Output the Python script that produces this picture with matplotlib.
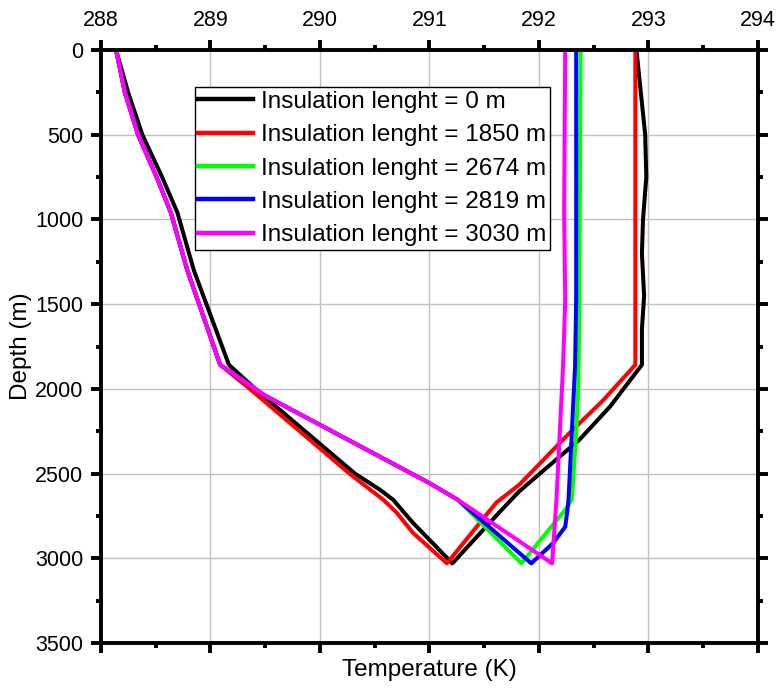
import matplotlib
matplotlib.use("Agg")
import matplotlib.pyplot as plt
from matplotlib.ticker import MultipleLocator

plt.rcParams["font.family"] = ["Liberation Sans", "DejaVu Sans"]

# each profile: down the inner pipe, then back up to the surface
labels = ["Insulation lenght = 0 m", "Insulation lenght = 1850 m",
          "Insulation lenght = 2674 m", "Insulation lenght = 2819 m",
          "Insulation lenght = 3030 m"]
colors = ["black", "#ff0000", "#00ff00", "#0000ff", "#ff00ff"]

# shared upper part of the descending branch (insulated cases)
down_T_top = [288.14, 288.22, 288.34, 288.51, 288.64, 288.79, 289.09]
down_d_top = [0, 250, 500, 750, 960, 1300, 1858]

T0 = [288.14, 288.25, 288.38, 288.56, 288.70, 288.85, 289.17, 289.41, 290.32,
      290.55, 290.67, 290.85, 291.21,
      291.66, 291.82, 292.37, 292.65, 292.94, 292.94, 292.96, 292.94, 292.95,
      292.98, 292.97, 292.93, 292.89]
d0 = [0, 250, 500, 750, 960, 1300, 1858, 2000, 2500,
      2596, 2655, 2791, 3030,
      2714, 2605, 2300, 2104, 1858, 1650, 1450, 1200, 1000,
      750, 500, 250, 0]

T1850 = down_T_top + [289.36, 290.27, 290.58, 290.70, 290.85, 291.16,
                      291.61, 291.82, 292.28, 292.59, 292.88, 292.88]
d1850 = down_d_top + [2000, 2500, 2655, 2730, 2850, 3030,
                      2672, 2566, 2260, 2065, 1858, 0]

magenta_mid_T = [289.5, 290.0, 291.0, 291.26]
magenta_mid_d = [2040, 2212, 2556, 2655]

T2674 = down_T_top + magenta_mid_T + [291.84,
                                      292.24, 292.30, 292.34, 292.36, 292.37, 292.37, 292.38]
d2674 = down_d_top + magenta_mid_d + [3030,
                                      2714, 2655, 2260, 1966, 1475, 1280, 0]

T2819 = down_T_top + magenta_mid_T + [291.93,
                                      292.13, 292.24, 292.26, 292.27, 292.30, 292.33, 292.34, 292.34]
d2819 = down_d_top + magenta_mid_d + [3030,
                                      2910, 2814, 2714, 2655, 2261, 1868, 1475, 0]

T3030 = down_T_top + magenta_mid_T + [292.12,
                                      292.16, 292.19, 292.22, 292.24, 292.23, 292.24]
d3030 = down_d_top + magenta_mid_d + [3030,
                                      2655, 2260, 1868, 1475, 950, 0]

temps = [T0, T1850, T2674, T2819, T3030]
depths = [d0, d1850, d2674, d2819, d3030]

fig = plt.figure(figsize=(7.81, 6.91), dpi=100)
ax = fig.add_axes([0.129, 0.0695, 0.8416, 0.8581])

for T, d, c, lab in zip(temps, depths, colors, labels):
    ax.plot(T, d, color=c, lw=2.9, label=lab)

ax.set_xlim(288, 294)
ax.set_ylim(3500, 0)
ax.xaxis.set_major_locator(MultipleLocator(1))
ax.xaxis.set_minor_locator(MultipleLocator(0.5))
ax.yaxis.set_major_locator(MultipleLocator(500))
ax.yaxis.set_minor_locator(MultipleLocator(250))
ax.grid(True, which="major", color="#c0c0c0", lw=1)
ax.set_axisbelow(True)

for s in ax.spines.values():
    s.set_linewidth(2.8)

ax.tick_params(which="both", direction="out", top=True, right=True,
               bottom=True, left=True, labeltop=True, labelbottom=False,
               width=2.8, labelsize=15.5)
ax.tick_params(which="major", length=7.5)
ax.tick_params(which="minor", length=3.5)
ax.tick_params(axis="x", which="major", pad=6)
ax.tick_params(axis="y", which="major", pad=5)

ax.set_xlabel("Temperature (K)", fontsize=17.5, labelpad=4)
ax.xaxis.set_label_position("bottom")
ax.set_ylabel("Depth (m)", fontsize=17.5, labelpad=2)

leg = ax.legend(loc="upper left", bbox_to_anchor=(0.143, 0.9376),
                borderaxespad=0, fontsize=17.5, fancybox=False,
                framealpha=1, edgecolor="black", handlelength=2.26,
                handletextpad=0.3, borderpad=0.15, labelspacing=0.47)
leg.get_frame().set_linewidth(1.0)
for line in leg.get_lines():
    line.set_linewidth(3.2)

fig.savefig("out.png", dpi=100)
